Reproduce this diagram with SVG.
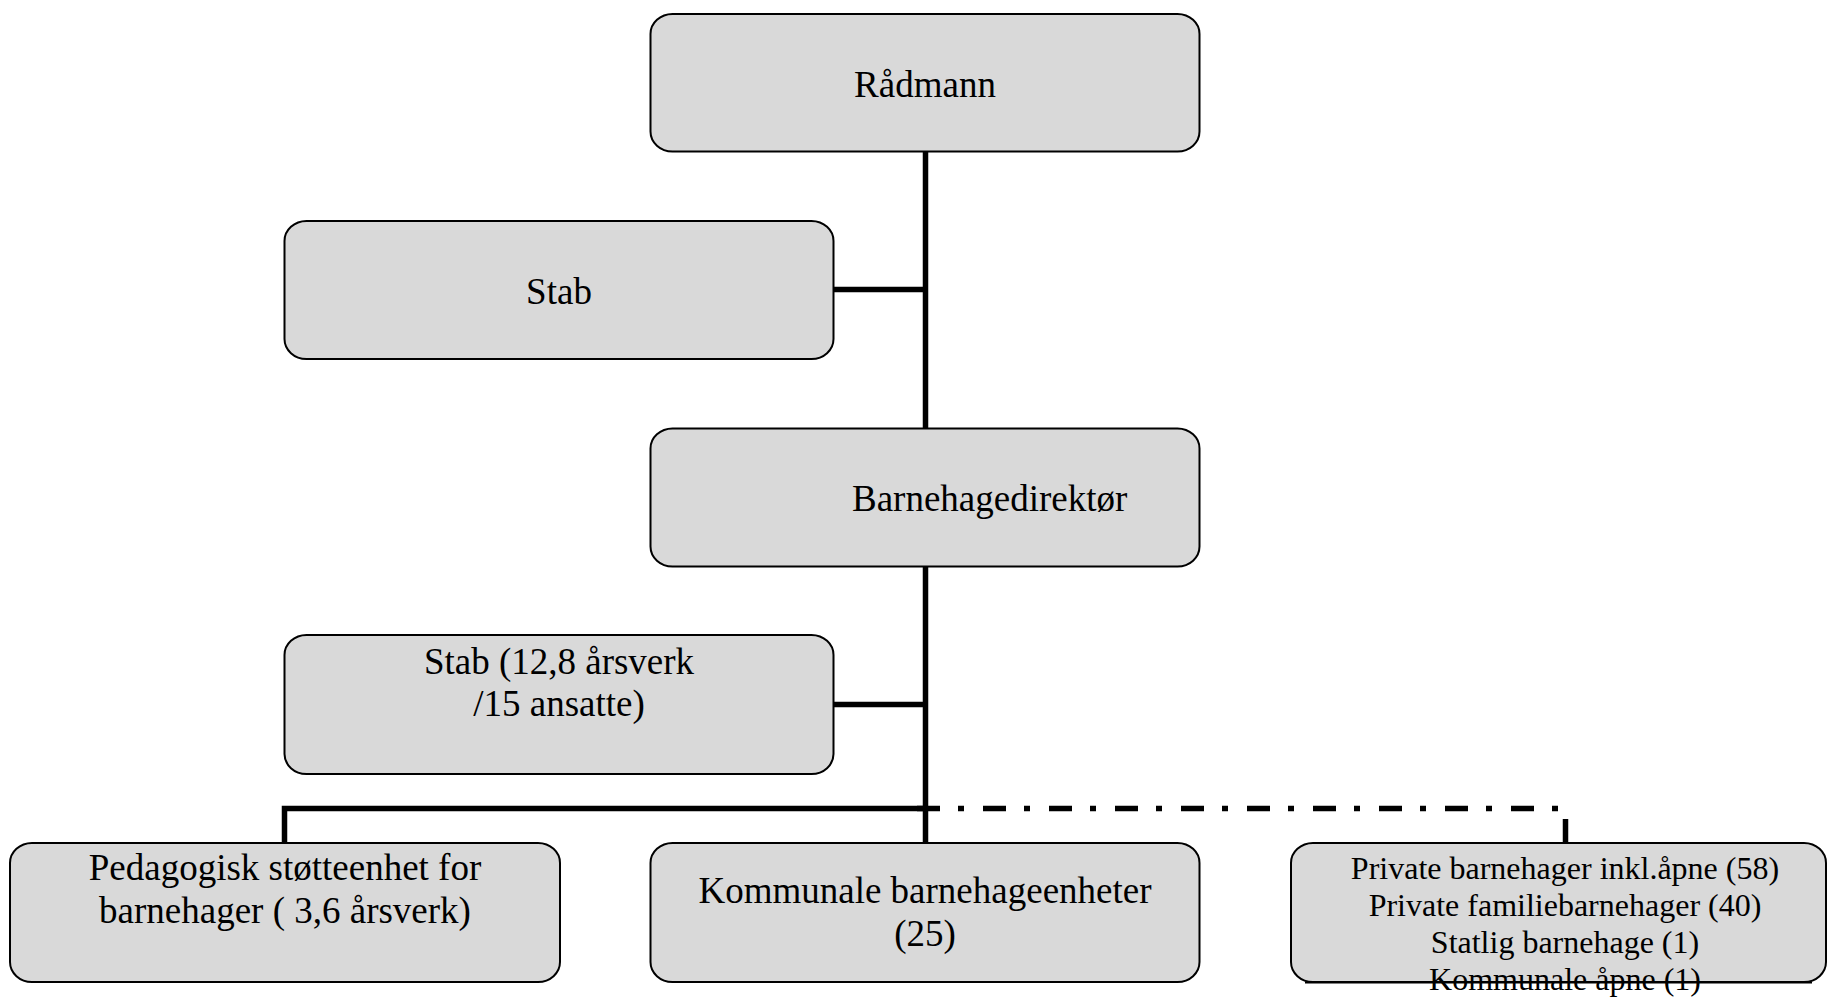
<svg xmlns="http://www.w3.org/2000/svg" width="1827" height="1000" viewBox="0 0 1827 1000">
<style>
.box{fill:#d9d9d9;stroke:#000;stroke-width:2}
.t{font-family:"Liberation Serif","Times New Roman",serif;font-size:37px;fill:#000;text-anchor:middle}
.s{font-size:32px}
.ln{fill:none;stroke:#000;stroke-width:5.5;stroke-linejoin:miter;stroke-linecap:butt}
.dd{stroke-dasharray:23 18 6 19}
</style>
<rect width="1827" height="1000" fill="#fff"/>
<g id="connectors">
<line class="ln" x1="925.5" y1="152" x2="925.5" y2="428"/>
<line class="ln" x1="834" y1="289.5" x2="925.5" y2="289.5"/>
<line class="ln" x1="925.5" y1="567" x2="925.5" y2="843"/>
<line class="ln" x1="834" y1="704.5" x2="925.5" y2="704.5"/>
<polyline class="ln" points="284.5,843 284.5,808.5 925.5,808.5"/>
<line class="ln dd" x1="917" y1="808.5" x2="1558" y2="808.5"/>
<line class="ln" x1="1565.5" y1="819" x2="1565.5" y2="843"/>
</g>
<g id="radmann">
<rect class="box" x="650.5" y="14" width="549" height="137.5" rx="22" ry="20"/>
<text class="t" x="925" y="97">Rådmann</text>
</g>
<g id="stab1">
<rect class="box" x="284.5" y="221" width="549" height="138" rx="22" ry="20"/>
<text class="t" x="559" y="304">Stab</text>
</g>
<g id="barnehagedirektor">
<rect class="box" x="650.5" y="428.5" width="549" height="138" rx="22" ry="20"/>
<text class="t" x="852" y="511" style="text-anchor:start">Barnehagedirektør</text>
</g>
<g id="stab2">
<rect class="box" x="284.5" y="635" width="549" height="139" rx="22" ry="20"/>
<text class="t" x="559" y="673.5">Stab (12,8 årsverk</text>
<text class="t" x="559" y="715.5">/15 ansatte)</text>
</g>
<g id="pedagogisk">
<rect class="box" x="10" y="843" width="550" height="139" rx="22" ry="20"/>
<text class="t" x="285" y="880">Pedagogisk støtteenhet for</text>
<text class="t" x="285" y="922.5">barnehager ( 3,6 årsverk)</text>
</g>
<g id="kommunale">
<rect class="box" x="650.5" y="843" width="549" height="139" rx="22" ry="20"/>
<text class="t" x="925" y="903">Kommunale barnehageenheter</text>
<text class="t" x="925" y="945.5">(25)</text>
</g>
<g id="private">
<rect class="box" x="1291" y="843" width="535" height="139" rx="22" ry="20"/>
<text class="t s" x="1565" y="878.5">Private barnehager inkl.åpne (58)</text>
<text class="t s" x="1565" y="915.5">Private familiebarnehager (40)</text>
<text class="t s" x="1565" y="953">Statlig barnehage (1)</text>
<text class="t s" x="1565" y="990">Kommunale åpne (1)</text>
<line x1="1305" y1="982.5" x2="1812" y2="982.5" stroke="#000" stroke-width="2"/>
</g>
</svg>
